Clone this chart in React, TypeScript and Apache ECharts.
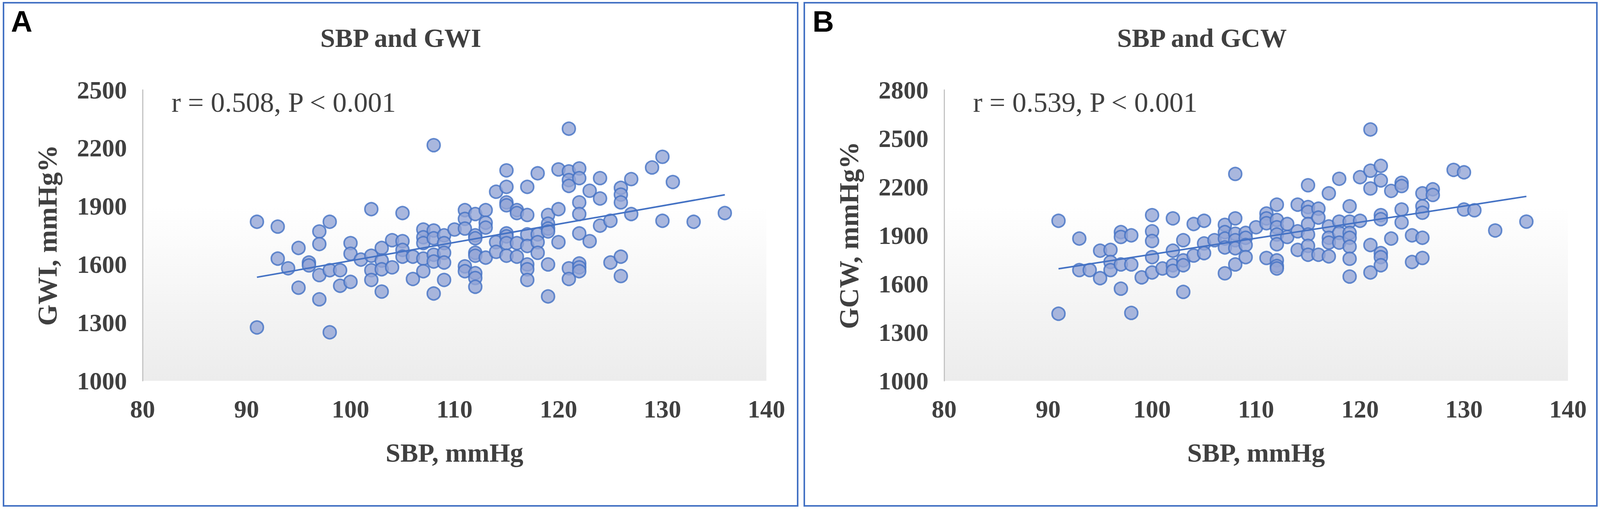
import React, { useEffect, useRef } from "react";
import * as echarts from "echarts";

const xTicks = [80, 90, 100, 110, 120, 130, 140];
const yTicksA = [1000, 1300, 1600, 1900, 2200, 2500];
const yTicksB = [1000, 1300, 1600, 1900, 2200, 2500, 2800];

const titleA = "SBP and GWI";
const titleB = "SBP and GCW";
const statA = "r = 0.508, P < 0.001";
const statB = "r = 0.539, P < 0.001";
const xName = "SBP, mmHg";
const yNameA = "GWI, mmHg%";
const yNameB = "GCW, mmHg%";

// Panel A: [SBP, GWI]
const pointsA: [number, number][] = [
  [91, 1820], [91, 1275],
  [93, 1795], [93, 1630],
  [94, 1580],
  [95, 1685], [95, 1480],
  [96, 1610], [96, 1595],
  [97, 1770], [97, 1705], [97, 1545], [97, 1420],
  [98, 1820], [98, 1570], [98, 1250],
  [99, 1570], [99, 1490],
  [100, 1710], [100, 1655], [100, 1510],
  [101, 1625],
  [102, 1885], [102, 1645], [102, 1570], [102, 1520],
  [103, 1685], [103, 1620], [103, 1575], [103, 1460],
  [104, 1725], [104, 1585],
  [105, 1865], [105, 1720], [105, 1675], [105, 1640],
  [106, 1640], [106, 1525],
  [107, 1780], [107, 1740], [107, 1710], [107, 1630], [107, 1565],
  [108, 2215], [108, 1775], [108, 1735], [108, 1650], [108, 1615], [108, 1450],
  [109, 1750], [109, 1710], [109, 1660], [109, 1610], [109, 1520],
  [110, 1780],
  [111, 1880], [111, 1835], [111, 1785], [111, 1590], [111, 1565],
  [112, 1860], [112, 1750], [112, 1735], [112, 1660], [112, 1645], [112, 1555], [112, 1530], [112, 1485],
  [113, 1880], [113, 1815], [113, 1790], [113, 1635],
  [114, 1975], [114, 1715], [114, 1665],
  [115, 2085], [115, 2000], [115, 1920], [115, 1905], [115, 1760], [115, 1745], [115, 1710], [115, 1645],
  [116, 1880], [116, 1865], [116, 1710], [116, 1640],
  [117, 2000], [117, 1855], [117, 1755], [117, 1695], [117, 1600], [117, 1575], [117, 1520],
  [118, 2070], [118, 1755], [118, 1715], [118, 1660],
  [119, 1855], [119, 1810], [119, 1785], [119, 1770], [119, 1600], [119, 1435],
  [120, 2090], [120, 1885], [120, 1715],
  [121, 2300], [121, 2080], [121, 2035], [121, 2005], [121, 1580], [121, 1525],
  [122, 2095], [122, 2045], [122, 1920], [122, 1860], [122, 1760], [122, 1605], [122, 1585], [122, 1565],
  [123, 1980], [123, 1720],
  [124, 2045], [124, 1940], [124, 1800],
  [125, 1825], [125, 1610],
  [126, 1995], [126, 1960], [126, 1920], [126, 1640], [126, 1540],
  [127, 2040], [127, 1860],
  [129, 2100],
  [130, 2155], [130, 1825],
  [131, 2025],
  [133, 1820],
  [136, 1865],
];

// Panel B: [SBP, GCW]
const pointsB: [number, number][] = [
  [91, 1990], [91, 1415],
  [93, 1880], [93, 1685],
  [94, 1685],
  [95, 1805], [95, 1635],
  [96, 1810], [96, 1735], [96, 1685],
  [97, 1920], [97, 1890], [97, 1720], [97, 1570],
  [98, 1900], [98, 1720], [98, 1420],
  [99, 1640],
  [100, 2025], [100, 1925], [100, 1865], [100, 1765], [100, 1670],
  [101, 1695],
  [102, 2005], [102, 1805], [102, 1715], [102, 1680],
  [103, 1870], [103, 1745], [103, 1715], [103, 1550],
  [104, 1970], [104, 1775],
  [105, 1990], [105, 1850], [105, 1790],
  [106, 1870],
  [107, 1965], [107, 1920], [107, 1880], [107, 1825], [107, 1665],
  [108, 2280], [108, 2005], [108, 1910], [108, 1870], [108, 1820], [108, 1720],
  [109, 1915], [109, 1885], [109, 1840], [109, 1765],
  [110, 1950],
  [111, 2035], [111, 2005], [111, 1975], [111, 1760],
  [112, 2090], [112, 1995], [112, 1950], [112, 1905], [112, 1845], [112, 1745], [112, 1710], [112, 1695],
  [113, 1970], [113, 1890],
  [114, 2090], [114, 1925], [114, 1810],
  [115, 2210], [115, 2075], [115, 2045], [115, 1970], [115, 1905], [115, 1835], [115, 1780],
  [116, 2065], [116, 2010], [116, 1780],
  [117, 2160], [117, 1955], [117, 1885], [117, 1855], [117, 1770],
  [118, 2250], [118, 1985], [118, 1915], [118, 1855],
  [119, 2080], [119, 1985], [119, 1915], [119, 1885], [119, 1830], [119, 1755], [119, 1645],
  [120, 2260], [120, 1990],
  [121, 2555], [121, 2300], [121, 2190], [121, 1840], [121, 1670],
  [122, 2330], [122, 2240], [122, 2025], [122, 2000], [122, 1790], [122, 1765], [122, 1715],
  [123, 2175], [123, 1880],
  [124, 2225], [124, 2205], [124, 2060], [124, 1980],
  [125, 1900], [125, 1735],
  [126, 2160], [126, 2080], [126, 2040], [126, 1885], [126, 1760],
  [127, 2185], [127, 2150],
  [129, 2305],
  [130, 2290], [130, 2060],
  [131, 2055],
  [133, 1930],
  [136, 1985],
];

const trendA: [number, number][] = [[91, 1534], [136, 1959]];
const trendB: [number, number][] = [[91, 1693], [136, 2141]];

const SERIF = "'Liberation Serif', 'Times New Roman', serif";
const SANS = "'Liberation Sans', Arial, sans-serif";
const BLUE = "#4472c4";
const TEXT = "#404040";

// design space is 4317 x 1302; horizontal positions are scaled to the visible width
function buildOption(sx: number) {
  const fs = (1 + sx) / 2;
  const X = (v: number) => Math.round(v * sx);
  const OFF = 2162;

  function makeAxes(gridIndex: number, yTicks: number[], yName: string) {
    const xAxis = {
      type: "value",
      gridIndex,
      min: xTicks[0],
      max: xTicks[xTicks.length - 1],
      interval: 10,
      name: xName,
      nameLocation: "middle",
      nameGap: 150,
      nameTextStyle: { fontFamily: SERIF, fontWeight: "bold", fontSize: Math.round(70 * fs), color: TEXT },
      axisLine: {
        show: true,
        onZero: false,
        lineStyle: { color: "#cfcfcf", width: 5, shadowColor: "rgba(0,0,0,0.25)", shadowBlur: 6, shadowOffsetY: 3 },
      },
      axisTick: { show: false },
      splitLine: { show: false },
      axisLabel: {
        fontFamily: SERIF,
        fontWeight: "bold",
        fontSize: Math.round(66 * fs),
        color: TEXT,
        margin: 40,
        formatter: (v: number) => String(v),
      },
    };
    const yAxis = {
      type: "value",
      gridIndex,
      min: yTicks[0],
      max: yTicks[yTicks.length - 1],
      name: yName,
      nameLocation: "middle",
      nameGap: X(220),
      nameTextStyle: { fontFamily: SERIF, fontWeight: "bold", fontSize: 70, color: TEXT },
      axisLine: { show: true, lineStyle: { color: "#c4c4c4", width: 3 } },
      axisTick: { show: false },
      splitLine: { show: false },
      axisLabel: {
        fontFamily: SERIF,
        fontWeight: "bold",
        fontSize: Math.round(66 * fs),
        color: TEXT,
        margin: X(42),
        customValues: yTicks,
        formatter: (v: number) => String(v),
      },
    };
    return { xAxis, yAxis };
  }

  function scatter(idx: number, pts: [number, number][]) {
    return {
      type: "scatter",
      xAxisIndex: idx,
      yAxisIndex: idx,
      data: pts,
      symbol: "circle",
      symbolSize: 33,
      itemStyle: { color: "#94a5d6", borderColor: BLUE, borderWidth: 4 },
      z: 2,
    };
  }

  function trend(idx: number, pts: [number, number][]) {
    return {
      type: "line",
      xAxisIndex: idx,
      yAxisIndex: idx,
      data: pts,
      symbol: "none",
      lineStyle: { color: BLUE, width: 4 },
      z: 3,
    };
  }

  function txt(text: string, x: number, y: number, font: string, align: string, fill: string) {
    return {
      type: "text",
      x,
      y,
      z: 10,
      style: { text, font, fill, align, verticalAlign: "middle", textAlign: align, textVerticalAlign: "middle" },
    };
  }

  const bg = () =>
    new echarts.graphic.LinearGradient(0, 0, 0, 1, [
      { offset: 0, color: "#ffffff" },
      { offset: 0.4, color: "#ffffff" },
      { offset: 1, color: "#ececec" },
    ]);

  const a = makeAxes(0, yTicksA, yNameA);
  const b = makeAxes(1, yTicksB, yNameB);
  const titleFont = `bold ${Math.round(70 * fs)}px ${SERIF}`;
  const statFont = `${Math.round(74 * fs)}px ${SERIF}`;
  const letterFont = `bold ${Math.round(78 * fs)}px ${SANS}`;

  return {
    animation: false,
    backgroundColor: "#ffffff",
    grid: [
      { left: X(385), top: 230, width: X(1683), height: 744, show: true, backgroundColor: bg(), borderWidth: 0 },
      { left: X(385 + OFF), top: 230, width: X(1683), height: 744, show: true, backgroundColor: bg(), borderWidth: 0 },
    ],
    xAxis: [a.xAxis, b.xAxis],
    yAxis: [a.yAxis, b.yAxis],
    series: [scatter(0, pointsA), trend(0, trendA), scatter(1, pointsB), trend(1, trendB)],
    graphic: [
      { type: "rect", shape: { x: X(9), y: 7, width: X(2143), height: 1287 }, style: { fill: "none", stroke: BLUE, lineWidth: 4 }, z: 10 },
      { type: "rect", shape: { x: X(2170), y: 7, width: X(2139), height: 1287 }, style: { fill: "none", stroke: BLUE, lineWidth: 4 }, z: 10 },
      txt("A", X(30), 54, letterFont, "left", "#000000"),
      txt("B", X(2192), 54, letterFont, "left", "#000000"),
      txt(titleA, X(1081), 97, titleFont, "center", TEXT),
      txt(titleB, X(1081 + OFF), 97, titleFont, "center", TEXT),
      txt(statA, X(463), 262, statFont, "left", TEXT),
      txt(statB, X(463 + OFF), 262, statFont, "left", TEXT),
    ],
  };
}

export default function App() {
  const ref = useRef<HTMLDivElement>(null);
  useEffect(() => {
    document.body.style.margin = "0";
    const el = ref.current;
    if (!el) return;
    const W = Math.min(window.innerWidth || 4317, 4317, 4096);
    el.style.width = W + "px";
    el.style.height = "1302px";
    const chart = echarts.init(el, undefined, { renderer: "svg", width: W, height: 1302 });
    chart.setOption(buildOption(W / 4317));
    return () => chart.dispose();
  }, []);
  return <div ref={ref} style={{ width: 4096, height: 1302 }} />;
}
